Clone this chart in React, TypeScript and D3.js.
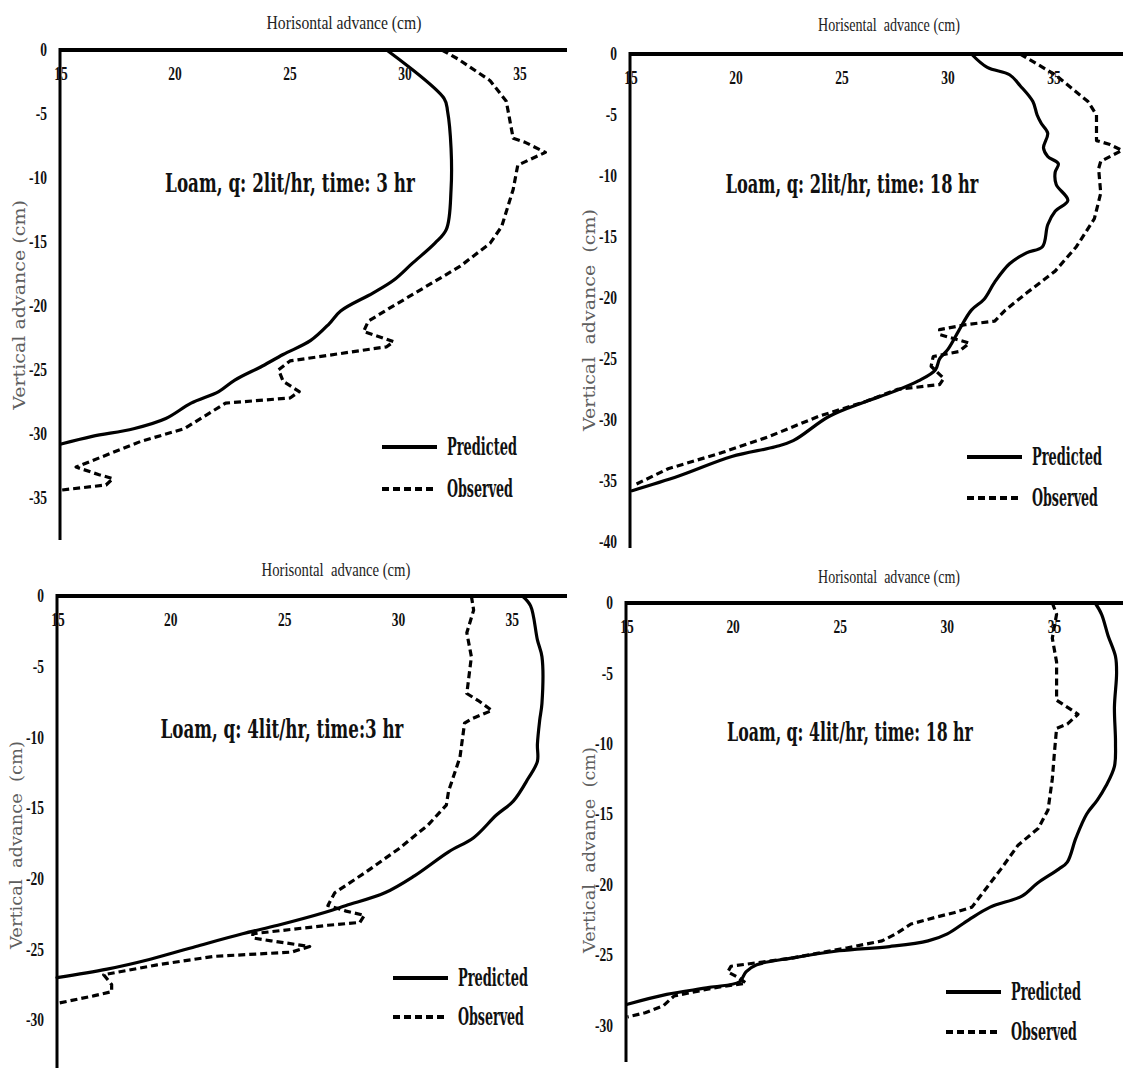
import React, { useLayoutEffect, useRef, useState } from "react";
import * as d3 from "d3";

type Pt = [number, number]; // [horizontal advance, vertical advance] in cm

// ---- data -----------------------------------------------------------------
const seriesNames = ["Predicted", "Observed"];
const xTickValues = [15, 20, 25, 30, 35];
const yTicks35 = [0, -5, -10, -15, -20, -25, -30, -35];
const yTicks40 = [0, -5, -10, -15, -20, -25, -30, -35, -40];
const yTicks30 = [0, -5, -10, -15, -20, -25, -30];

const panelNotes = [
  "Loam, q: 2lit/hr, time: 3 hr",
  "Loam, q: 2lit/hr, time: 18 hr",
  "Loam, q: 4lit/hr, time:3 hr",
  "Loam, q: 4lit/hr, time: 18 hr",
];
const xTitles = [
  "Horisontal advance (cm)",
  "Horisental  advance (cm)",
  "Horisontal  advance (cm)",
  "Horisontal  advance (cm)",
];
const yTitles = [
  "Vertical advance (cm)",
  "Vertical  advance  (cm)",
  "Vertical  advance  (cm)",
  "Vertical  advance  (cm)",
];

const q2t3Predicted: Pt[] = [
  [29.2, 0], [31.7, -3.8], [31.85, -4.8], [32.0, -7.7], [32.0, -10.9], [31.8, -14],
  [31.3, -15.1], [30.3, -16.7], [29.5, -18], [28.6, -19], [27.2, -20.4], [26.7, -21.4],
  [25.9, -22.7], [24.7, -23.8], [23.8, -24.7], [22.6, -25.8], [21.9, -26.7], [20.7, -27.6],
  [19.6, -28.8], [18.2, -29.6], [16.4, -30.2], [15.05, -30.8],
];
const q2t3Observed: Pt[] = [
  [31.6, 0], [32.3, -0.7], [33.7, -2.4], [34.4, -4], [34.7, -6.9], [35.2, -7.2], [36.1, -8],
  [34.9, -9], [34.7, -10.9], [34.2, -13.8], [33.7, -15.1], [32.4, -16.9], [30.9, -18.5],
  [29.4, -20.1], [28.4, -21.2], [28.2, -22], [29.5, -22.8], [29.2, -23.2], [25, -24.3],
  [24.5, -25], [24.7, -25.9], [25.4, -26.7], [25, -27.2], [22.2, -27.6], [20.4, -29.6],
  [18.5, -30.6], [15.7, -32.6], [16.7, -33.2], [17.3, -33.5], [17.0, -34], [15.05, -34.4],
];

const q2t18Predicted: Pt[] = [
  [31.1, 0], [31.85, -1.1], [32.9, -1.7], [33.4, -2.6], [34.0, -3.9], [34.2, -5.0],
  [34.4, -5.7], [34.7, -6.5], [34.5, -7.7], [34.7, -8.4], [35.2, -9.0], [35.05, -9.7],
  [35.1, -10.7], [35.65, -12], [35.05, -12.9], [34.7, -14], [34.45, -15.8], [33.7, -16.3],
  [32.9, -17.2], [32.2, -18.7], [31.7, -20.1], [31.1, -21], [30.5, -22.7], [30.0, -24.2],
  [29.6, -25], [29.4, -25.9], [28.6, -26.8], [27.4, -27.7], [26.1, -28.5], [24.4, -29.7],
  [22.7, -31.7], [21.85, -32.2], [19.8, -33], [17.3, -34.6], [15.1, -35.8],
];
const q2t18Observed: Pt[] = [
  [33.4, 0], [35.05, -1.7], [36.6, -3.9], [37.0, -5.0], [37.0, -7.1], [37.6, -7.4],
  [38.2, -7.9], [37.2, -8.8], [37.1, -9.4], [37.2, -11.4], [36.9, -13.5], [36.05, -15.8],
  [35.05, -17.8], [33.7, -19.6], [32.7, -21], [32.2, -21.9], [30.8, -22.2], [29.6, -22.6],
  [29.6, -23], [31.0, -23.7], [30.5, -24.4], [29.3, -24.8], [29.2, -25.6], [29.8, -26.6],
  [29.6, -27.1], [27.6, -27.5], [26.1, -28.5], [23.9, -29.7], [21.5, -31.4], [19.3, -32.7],
  [16.8, -34], [15.25, -35.3],
];

const q4t3Predicted: Pt[] = [
  [35.44, 0], [35.8, -0.7], [36.1, -3.1], [36.3, -4.3], [36.3, -7.6], [36.2, -8.8],
  [36.1, -10.5], [36.1, -11.7], [35.7, -12.9], [35.05, -14.5], [34.3, -15.5], [33.3, -17.1],
  [32.2, -18.1], [30.7, -19.8], [29.4, -21.0], [27.7, -21.9], [26.75, -22.4], [24.7, -23.3],
  [23.15, -23.9], [21.1, -24.8], [19.1, -25.7], [17.2, -26.4], [15.0, -27.0],
];
const q4t3Observed: Pt[] = [
  [33.2, 0], [33.3, -1.0], [33.0, -2.6], [33.2, -4.3], [33.0, -6.9], [33.5, -7.4],
  [34.1, -8.1], [33.2, -8.7], [32.9, -9.0], [32.7, -11.4], [32.2, -13.8], [32.1, -14.8],
  [31.3, -16.2], [30.0, -17.9], [28.6, -19.5], [27.2, -21.0], [26.9, -21.9], [27.7, -22.3],
  [28.5, -22.6], [28.3, -23.1], [26.9, -23.3], [23.6, -23.9], [23.6, -24.2], [24.4, -24.4],
  [26.1, -24.8], [25.3, -25.2], [21.9, -25.5], [19.4, -26.1], [17.05, -26.8], [17.4, -27.5],
  [17.4, -28.0], [16.6, -28.3], [15.1, -28.8],
];

const q4t18Predicted: Pt[] = [
  [36.9, 0], [37.2, -0.8], [37.5, -2.3], [37.85, -3.8], [37.9, -5.0], [37.8, -7.4],
  [37.85, -9.9], [37.8, -11.6], [37.4, -13.0], [37.0, -14.0], [36.5, -15.0], [36.0, -16.7],
  [35.6, -18.4], [35.2, -18.9], [34.2, -19.9], [33.5, -20.8], [32.0, -21.6], [31.0, -22.5],
  [30.0, -23.5], [29.1, -24.0], [27.3, -24.4], [24.95, -24.7], [22.8, -25.2], [21.1, -25.7],
  [20.6, -26.2], [20.3, -26.9], [18.9, -27.3], [16.9, -27.8], [15.07, -28.5],
];
const q4t18Observed: Pt[] = [
  [34.9, 0], [35.1, -0.8], [34.9, -2.5], [35.1, -4.2], [35.1, -6.9], [35.5, -7.3],
  [36.1, -7.9], [35.6, -8.6], [35.1, -8.9], [35.0, -10.6], [34.9, -12.5], [34.7, -14.7],
  [34.25, -16.0], [33.3, -17.2], [32.5, -18.9], [31.65, -20.6], [31.15, -21.6], [30.3, -22.0],
  [29.5, -22.3], [28.3, -22.8], [27.6, -23.5], [26.95, -24.0], [25.3, -24.5], [22.8, -25.2],
  [19.9, -25.8], [19.75, -26.2], [20.25, -26.6], [20.6, -27.0], [19.25, -27.3], [17.25, -27.9],
  [16.75, -28.6], [15.9, -29.1], [15.07, -29.4],
];

// ---- layout ---------------------------------------------------------------
interface Layout {
  xDomain: [number, number];
  xRange: [number, number];
  yDomain: [number, number];
  yRange: [number, number];
  xTitle: { x: number; y: number; w: number };
  yTitle: { x: number; y: number; w: number };
  note: { x: number; y: number; w: number };
  legend: { x: number; y: number; gap: number };
}

const layouts: Layout[] = [
  {
    xDomain: [15, 37.04], xRange: [60, 567],
    yDomain: [0, -38.3], yRange: [50, 540],
    xTitle: { x: 344, y: 22, w: 155 },
    yTitle: { x: 20, y: 305, w: 210 },
    note: { x: 290, y: 183, w: 250 },
    legend: { x: 382, y: 447, gap: 42 },
  },
  {
    xDomain: [15, 38.25], xRange: [630, 1123],
    yDomain: [0, -40.5], yRange: [54, 548],
    xTitle: { x: 889, y: 25, w: 142 },
    yTitle: { x: 590, y: 320, w: 222 },
    note: { x: 852, y: 184, w: 253 },
    legend: { x: 967, y: 457, gap: 41 },
  },
  {
    xDomain: [15, 37.4], xRange: [57, 567],
    yDomain: [0, -33.4], yRange: [596, 1068],
    xTitle: { x: 336, y: 570, w: 149 },
    yTitle: { x: 16, y: 845, w: 208 },
    note: { x: 282, y: 729, w: 243 },
    legend: { x: 393, y: 978, gap: 39 },
  },
  {
    xDomain: [15, 38.2], xRange: [626, 1123],
    yDomain: [0, -32.6], yRange: [603, 1062],
    xTitle: { x: 889, y: 577, w: 142 },
    yTitle: { x: 589, y: 850, w: 206 },
    note: { x: 850, y: 732, w: 246 },
    legend: { x: 946, y: 992, gap: 40 },
  },
];

const panels = [
  { predicted: q2t3Predicted, observed: q2t3Observed, yTicks: yTicks35 },
  { predicted: q2t18Predicted, observed: q2t18Observed, yTicks: yTicks40 },
  { predicted: q4t3Predicted, observed: q4t3Observed, yTicks: yTicks30 },
  { predicted: q4t18Predicted, observed: q4t18Observed, yTicks: yTicks30 },
];

const TICK_FONT = "'Liberation Serif', 'Times New Roman', serif";
const NOTE_FONT = "'DejaVu Serif Condensed', 'DejaVu Serif', serif";
const DASH = "7 4";

// Text squeezed horizontally so that it spans exactly `width` pixels.
function FitText({
  x,
  y,
  width,
  anchor = "start",
  rotate = 0,
  children,
  ...rest
}: {
  x: number;
  y: number;
  width: number;
  anchor?: "start" | "middle" | "end";
  rotate?: number;
  children: string;
  [k: string]: any;
}) {
  const ref = useRef<SVGTextElement>(null);
  const [sx, setSx] = useState(1);
  useLayoutEffect(() => {
    const el = ref.current;
    if (!el) return;
    const len = el.getComputedTextLength();
    if (len > 0) setSx(width / len);
  }, [width, children]);
  return (
    <text
      ref={ref}
      transform={`translate(${x},${y}) rotate(${rotate}) scale(${sx},1)`}
      textAnchor={anchor}
      dominantBaseline="central"
      style={{ whiteSpace: "pre" }}
      {...rest}
    >
      {children}
    </text>
  );
}

function Panel({ idx }: { idx: number }) {
  const L = layouts[idx];
  const P = panels[idx];
  const x = d3.scaleLinear().domain(L.xDomain).range(L.xRange);
  const y = d3.scaleLinear().domain(L.yDomain).range(L.yRange);

  const smooth = d3
    .line<Pt>()
    .x((d) => x(d[0]))
    .y((d) => y(d[1]))
    .curve(d3.curveCatmullRom.alpha(0.5));
  const straight = d3
    .line<Pt>()
    .x((d) => x(d[0]))
    .y((d) => y(d[1]))
    .curve(d3.curveLinear);

  const x0 = x(15);
  const y0 = y(0);

  return (
    <g>
      {/* axis titles */}
      <FitText
        x={L.xTitle.x}
        y={L.xTitle.y}
        width={L.xTitle.w}
        anchor="middle"
        fontFamily={TICK_FONT}
        fontSize={19}
        fill="#222"
      >
        {xTitles[idx]}
      </FitText>
      <FitText
        x={L.yTitle.x}
        y={L.yTitle.y}
        width={L.yTitle.w}
        anchor="middle"
        rotate={-90}
        fontFamily="'DejaVu Serif', serif"
        fontSize={16}
        fill="#5e5e5e"
      >
        {yTitles[idx]}
      </FitText>

      {/* series */}
      <path
        d={smooth(P.predicted) || ""}
        fill="none"
        stroke="#000"
        strokeWidth={3.2}
        strokeLinejoin="round"
        strokeLinecap="round"
      />
      <path
        d={straight(P.observed) || ""}
        fill="none"
        stroke="#000"
        strokeWidth={3.2}
        strokeDasharray={DASH}
        strokeLinejoin="round"
      />

      {/* axes */}
      <line x1={x0} x2={L.xRange[1]} y1={y0} y2={y0} stroke="#000" strokeWidth={4} />
      <line x1={x0} x2={x0} y1={y0 - 2} y2={L.yRange[1]} stroke="#000" strokeWidth={3} />

      {/* tick labels */}
      {xTickValues.map((v) => (
        <text
          key={"x" + v}
          transform={`translate(${x(v) + (v === 15 ? 1 : 0)},${y0 + 24}) scale(0.75,1)`}
          textAnchor="middle"
          dominantBaseline="central"
          fontFamily={TICK_FONT}
          fontWeight="bold"
          fontSize={18}
          fill="#111"
        >
          {v}
        </text>
      ))}
      {P.yTicks.map((v) => (
        <text
          key={"y" + v}
          transform={`translate(${x0 - 13},${y(v)}) scale(0.75,1)`}
          textAnchor="end"
          dominantBaseline="central"
          fontFamily={TICK_FONT}
          fontWeight="bold"
          fontSize={18}
          fill="#111"
        >
          {v}
        </text>
      ))}

      {/* annotation */}
      <FitText
        x={L.note.x}
        y={L.note.y}
        width={L.note.w}
        anchor="middle"
        fontFamily={NOTE_FONT}
        fontWeight="bold"
        fontSize={26}
        fill="#111"
      >
        {panelNotes[idx]}
      </FitText>

      {/* legend */}
      {seriesNames.map((name, i) => {
        const ly = L.legend.y + i * L.legend.gap;
        return (
          <g key={name}>
            <line
              x1={L.legend.x}
              x2={L.legend.x + 55}
              y1={ly}
              y2={ly}
              stroke="#000"
              strokeWidth={4}
              strokeDasharray={i === 1 ? DASH : undefined}
            />
            <FitText
              x={L.legend.x + 65}
              y={ly}
              width={i === 0 ? 70 : 66}
              fontFamily={NOTE_FONT}
              fontWeight="bold"
              fontSize={24}
              fill="#111"
            >
              {name}
            </FitText>
          </g>
        );
      })}
    </g>
  );
}

export default function App() {
  return (
    <svg
      width={1123}
      height={1068}
      viewBox="0 0 1123 1068"
      style={{ position: "absolute", left: 0, top: 0, background: "#fff" }}
    >
      <rect width={1123} height={1068} fill="#fff" />
      {layouts.map((_, i) => (
        <Panel key={i} idx={i} />
      ))}
    </svg>
  );
}
